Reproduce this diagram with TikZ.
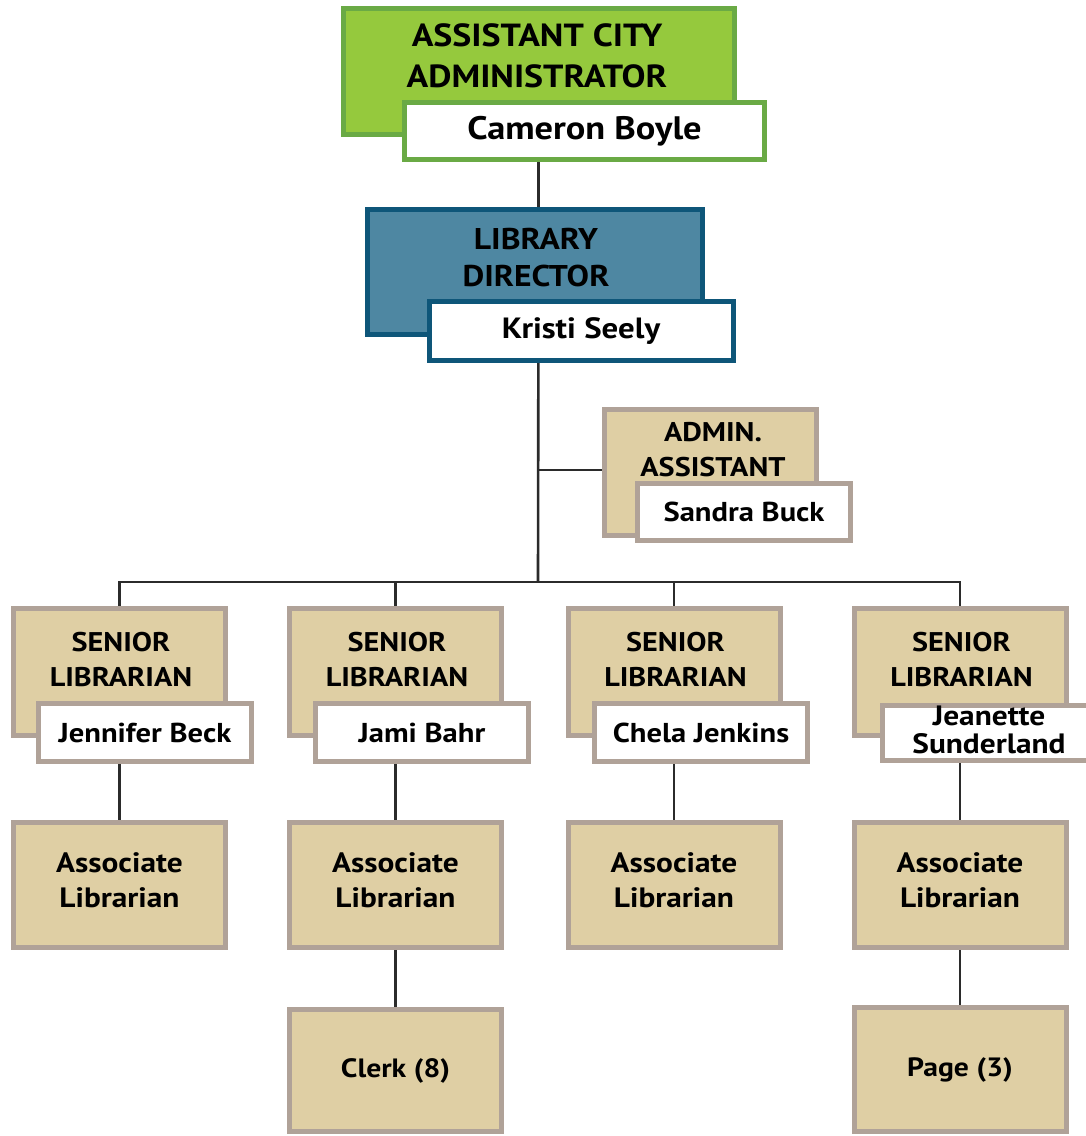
\documentclass[tikz,border=0pt]{standalone}
\usepackage{fontspec}
\setmainfont[FakeStretch=1.12]{PT Sans}
\definecolor{tanfill}{RGB}{223,207,164}
\definecolor{tanedge}{RGB}{176,162,152}
\definecolor{grnfill}{RGB}{149,201,61}
\definecolor{grnedge}{RGB}{106,170,69}
\definecolor{bluefill}{RGB}{78,135,162}
\definecolor{blueedge}{RGB}{14,86,121}
\definecolor{linkcol}{RGB}{43,43,43}
\tikzset{
  box/.style={rectangle, line width=5pt, inner sep=0pt, align=center},
  tanbox/.style={box, draw=tanedge, fill=tanfill, minimum width=212pt},
  namebox/.style={box, fill=white},
  ttl/.style={font=\bfseries\fontsize{32}{41}\selectfont, align=center, inner sep=0pt},
  role/.style={font=\bfseries\fontsize{27}{35}\selectfont, align=center, inner sep=0pt},
  nm/.style={font=\bfseries\fontsize{27.3}{30}\selectfont},
  link/.style={draw=linkcol, line width=2.6pt}
}
\begin{document}
\begin{tikzpicture}[x=1pt,y=-1pt]
\useasboundingbox (0,0) rectangle (1086,1136);
\coordinate (bar) at (538,582);
\path
  (538.5,71.5) coordinate (pAca)
  (535,272) coordinate (pDir)
  (710.5,470) coordinate (pAdm);
% connectors (drawn first, boxes cover their ends)
\draw[link] (pAca) -- (pAca |- pDir);
\draw[link] (pAca |- pDir) -- (bar);
\draw[link] (bar |- pAdm) -- (pAdm);
\draw[link] (119.5,672) -- (119.5,582) -- (960,582) -- (960,672);
\draw[link] (395.5,582) -- (395.5,1070);
\draw[link] (674,582) -- (674,885);
\draw[link] (119.5,672) -- (119.5,885);
\draw[link] (960,672) -- (960,1069);
% top
\node[box, draw=grnedge, fill=grnfill, minimum width=391pt, minimum height=126pt] (aca) at (539,71.5) {};
\node[ttl] (acaT) at (537,56) {ASSISTANT CITY\\ADMINISTRATOR};
\node[namebox, draw=grnedge, minimum width=360pt, minimum height=57pt, font=\bfseries\fontsize{32.5}{34}\selectfont] (cam) at (584.5,131) {Cameron Boyle};
% director
\node[box, draw=blueedge, fill=bluefill, minimum width=335pt, minimum height=125pt] (dir) at (pDir) {};
\node[role, font=\bfseries\fontsize{30}{37}\selectfont] (dirT) at (536,258) {LIBRARY\\DIRECTOR};
\node[namebox, draw=blueedge, minimum width=304pt, minimum height=59pt, font=\bfseries\fontsize{29.3}{31}\selectfont] (kri) at (581,331) {Kristi Seely};
% admin
\node[tanbox, minimum height=126pt] (adm) at (710.5,472.5) {};
\node[role] (admT) at (713,450) {ADMIN.\\ASSISTANT};
\node[namebox, draw=tanedge, minimum width=213pt, minimum height=57pt, nm] (san) at (744,512) {Sandra Buck};
% senior librarians
\foreach \i/\cx/\nx/\who in {1/119.5/145/{Jennifer Beck},2/395.5/422/{Jami Bahr},3/674/701/{Chela Jenkins}}{
  \node[tanbox, minimum height=127pt] (sen\i) at (\cx,672) {};
  \node[role] (senT\i) at (\cx+1.5,659) {SENIOR\\LIBRARIAN};
  \node[namebox, draw=tanedge, minimum width=213pt, minimum height=58pt, nm] (nm\i) at (\nx,732.5) {\who};
}
\node[tanbox, minimum height=127pt] (sen4) at (960,672) {};
\node[role] (senT4) at (961.5,659) {SENIOR\\LIBRARIAN};
\node[namebox, draw=tanedge, minimum width=213pt, minimum height=55pt] (nm4) at (989,733) {};
\node[align=center, font=\bfseries\fontsize{28}{28}\selectfont, inner sep=0pt] (nm4T) at (989,730) {Jeanette\\Sunderland};
% associates
\foreach \i/\cx in {1/119.5,2/395.5,3/674,4/960}{
  \node[tanbox, minimum height=125pt, role, font=\bfseries\fontsize{28}{35}\selectfont] (as\i) at (\cx,885) {Associate\\Librarian\\[-25pt]\mbox{}};
}
\node[tanbox, minimum height=122pt, font=\bfseries\fontsize{26.5}{30}\selectfont] (clerk) at (395.5,1070.5) {Clerk (8)};
\node[tanbox, minimum height=124pt, font=\bfseries\fontsize{26.5}{30}\selectfont] (page) at (960,1069.5) {Page (3)};
\end{tikzpicture}
\end{document}
